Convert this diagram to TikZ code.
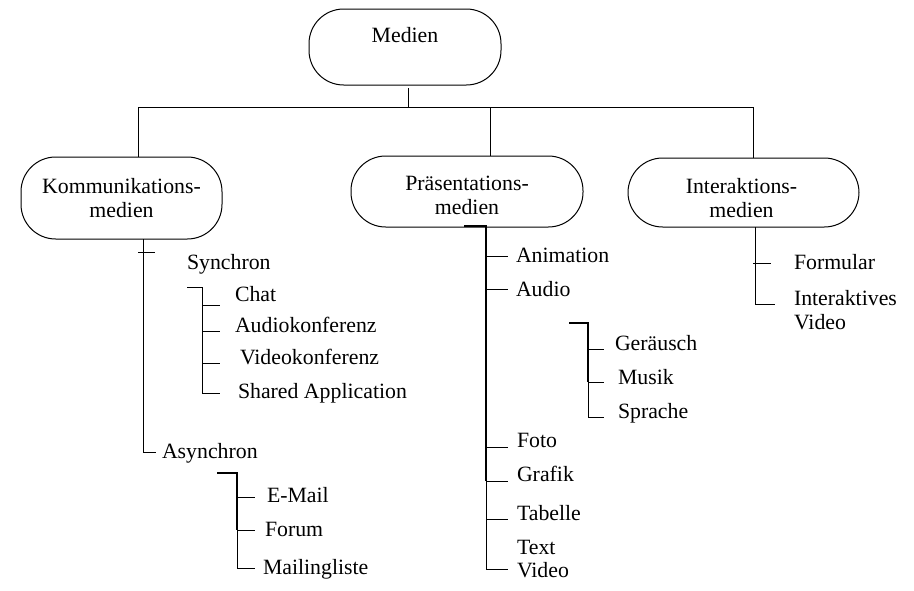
\documentclass[tikz,border=0pt]{standalone}
\usepackage{fontspec}
\setmainfont{Liberation Serif}
\usetikzlibrary{calc}
\begin{document}
\begin{tikzpicture}[x=0.75pt,y=-0.75pt,
  every node/.style={font=\fontsize{16.35}{18}\selectfont, inner sep=0pt, outer sep=0pt},
  box/.style={draw, line width=0.75pt, rounded corners=26pt},
  lbl/.style={align=center},
  item/.style={anchor=base west},
  link/.style={line width=0.75pt},
  heavy/.style={line width=1.6pt}]
\useasboundingbox (0,0) rectangle (914,590);

% ---- category boxes ----
\node[box, minimum width=144pt, minimum height=57pt] (medien) at (405,47) {};
\node[anchor=base] (medien-t) at (405,42) {Medien};
\node[box, minimum width=150.75pt, minimum height=61.5pt] (kom) at (121.5,198) {};
\node[lbl] (kom-t) at (121.5,198.5) {Kommunikations-\\medien};
\node[box, minimum width=174pt, minimum height=53.25pt] (praes) at (467,191.5) {};
\node[lbl] (praes-t) at (467,195) {Präsentations-\\medien};
\node[box, minimum width=173.25pt, minimum height=51.75pt] (inter) at (743.5,192.5) {};
\node[lbl] (inter-t) at (741.5,198) {Interaktions-\\medien};

% ---- bus from the root ----
\coordinate (bus-l) at (138,107);
\coordinate (bus-c) at (408,107);
\coordinate (bus-m) at (490,107);
\coordinate (bus-r) at (753,107);
\draw[link] ($(medien.south)+(3,3)$) -- (bus-c);
\draw[link] (bus-l) -- (bus-r);
\draw[link] (bus-l) -- (bus-l |- kom.north);
\draw[link] (bus-m) -- (bus-m |- praes.north);
\draw[link] (bus-r) -- (bus-r |- inter.north);

% ---- Kommunikationsmedien ----
\node[item] (syn) at (187,269) {Synchron};
\node[item] (asyn) at (162,458) {Asynchron};
\coordinate (k-top) at ($(kom.south)+(21.5,0)$);
\coordinate (k-end) at (156,452);
\draw[link] (k-top) |- (k-end);
\draw[link] (138,252) -- (155,252);

\node[item] (chat) at (235,301) {Chat};
\node[item] (audiok) at (235,332) {Audiokonferenz};
\node[item] (videok) at (240,364) {Videokonferenz};
\node[item] (shared) at (238,398) {Shared Application};
\coordinate (s-top) at (187,287);
\draw[link] (s-top) -- (202,287) -- (202,393) -- (220,393);
\draw[link] (202,305) -- (220,305);
\draw[link] (202,331) -- (220,331);
\draw[link] (202,363) -- (220,363);

\node[item] (email) at (267,502) {E-Mail};
\node[item] (forum) at (265,536) {Forum};
\node[item] (mliste) at (263,574) {Mailingliste};
\coordinate (a-top) at (217,473);
\draw[heavy] (a-top) -- (237,473) -- (237,530);
\draw[link] (237,530) -- (237,568) -- (255,568);
\draw[link] (237,497) -- (255,497);
\draw[link] (237,530) -- (255,530);

% ---- Präsentationsmedien ----
\coordinate (p-top) at ($(praes.south)+(19,-1)$);
\draw[heavy] ($(praes.south)+(-3,-1)$) -- (p-top) -- (486,481);
\draw[link] (486,481) -- (486,569) -- (508,569);
\foreach \y in {256,289,447,481,519} \draw[link] (486,\y) -- (508,\y);
\node[item] (anim) at (516,262) {Animation};
\node[item] (audio) at (516,296) {Audio};
\node[item] (foto) at (517,447) {Foto};
\node[item] (grafik) at (517,481) {Grafik};
\node[item] (tabelle) at (517,520) {Tabelle};
\node[item] (text) at (517,554) {Text};
\node[item] (video) at (517,577) {Video};

\coordinate (au-top) at (569,323);
\draw[heavy] (au-top) -- (588,323) -- (588,382);
\draw[link] (588,382) -- (588,417) -- (604,417);
\draw[link] (588,349) -- (604,349);
\draw[link] (588,382) -- (604,382);
\node[item] (geraeusch) at (615,350) {Geräusch};
\node[item] (musik) at (618,384) {Musik};
\node[item] (sprache) at (618,418) {Sprache};

% ---- Interaktionsmedien ----
\coordinate (i-top) at ($(inter.south)+(11.5,0)$);
\coordinate (i-end) at (775,304);
\draw[link] (i-top) |- (i-end);
\draw[link] (753,263) -- (771,263);
\node[item] (formular) at (794,269) {Formular};
\node[anchor=west, align=left] (ivideo) at (794,310) {Interaktives\\Video};
\end{tikzpicture}
\end{document}
